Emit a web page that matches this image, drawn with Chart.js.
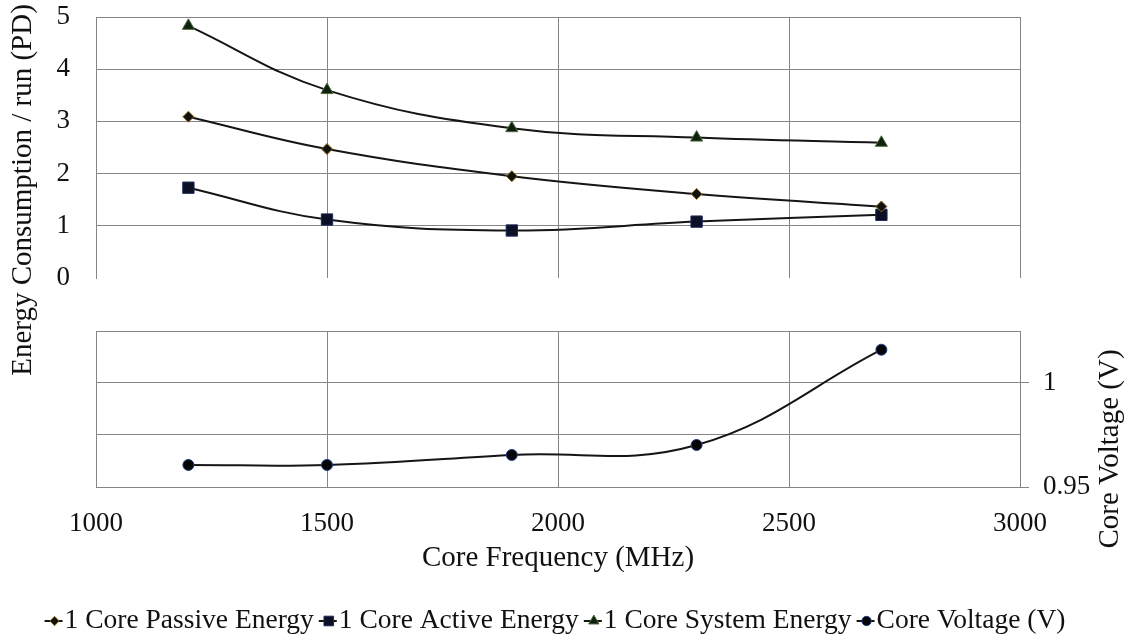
<!DOCTYPE html>
<html>
<head>
<meta charset="utf-8">
<script src="https://cdn.jsdelivr.net/npm/chart.js@4.4.1/dist/chart.umd.min.js"></script>
<style>
  html, body { margin: 0; padding: 0; background: #fff; }
  #wrap { position: relative; width: 1124px; height: 637px; }
  #wrap canvas { position: absolute; left: 0; top: 0; }
</style>
</head>
<body>
<div id="wrap">
  <canvas id="voltChart" width="1124" height="637"></canvas>
  <canvas id="energyChart" width="1124" height="637"></canvas>
</div>
<script>
// data
const FREQ = [1200, 1500, 1900, 2300, 2700];
const PASSIVE = [3.09, 2.47, 1.95, 1.61, 1.37];
const ACTIVE = [1.73, 1.12, 0.91, 1.08, 1.21];
const SYSTEM = [4.83, 3.60, 2.87, 2.69, 2.59];
const VOLTAGE = [0.9606, 0.9606, 0.9654, 0.9702, 1.0160];

const X_TICKS = [1000, 1500, 2000, 2500, 3000];
const ENERGY_TICKS = [0, 1, 2, 3, 4, 5];
const VOLT_TICKS = [0.95, 0.975, 1, 1.025];
const VOLT_LABELS = ["0.95", "1"];

const FONT = "'Liberation Serif', 'Times New Roman', serif";
const GRID = "#858585";
const LINE = "#151515";
const TXT = "#111";

const SERIES = [
  { label: "1 Core Passive Energy", data: PASSIVE, style: "rectRot", radius: 5.5, fill: "#111", edge: "#8a6a10" },
  { label: "1 Core Active Energy", data: ACTIVE, style: "rect", radius: 8, fill: "#0c1024", edge: "#1d2a5c" },
  { label: "1 Core System Energy", data: SYSTEM, style: "triangle", radius: 7, fill: "#10200f", edge: "#4a6a3a" },
  { label: "Core Voltage (V)", data: VOLTAGE, style: "circle", radius: 5.5, fill: "#050505", edge: "#1f3a8a" }
];

function pts(ys) {
  return FREQ.map((x, i) => ({ x, y: ys[i] }));
}

function makeDataset(s) {
  return {
    label: s.label,
    data: pts(s.data),
    borderColor: LINE,
    borderWidth: 2,
    tension: 0.4,
    pointStyle: s.style,
    pointRadius: s.radius,
    pointBackgroundColor: s.fill,
    pointBorderColor: s.edge,
    pointBorderWidth: 1
  };
}

const isVoltLabel = v => Math.abs(v - 1) < 1e-6 || Math.abs(v - 0.95) < 1e-6;

// ---------- top panel: energy ----------
const titlePlugin = {
  id: "leftTitle",
  afterDraw(chart) {
    const ctx = chart.ctx;
    ctx.save();
    ctx.translate(23, 190);
    ctx.rotate(-Math.PI / 2);
    ctx.font = `29px ${FONT}`;
    ctx.fillStyle = TXT;
    ctx.textAlign = "center";
    ctx.textBaseline = "middle";
    ctx.fillText("Energy Consumption / run (PD)", 0, 0);
    ctx.restore();
  }
};

new Chart(document.getElementById("energyChart"), {
  type: "line",
  data: { datasets: SERIES.slice(0, 3).map(makeDataset) },
  options: {
    responsive: false,
    animation: false,
    devicePixelRatio: 1,
    layout: { padding: { top: 17, bottom: 359, left: 0, right: 104 } },
    plugins: { legend: { display: false }, tooltip: { enabled: false } },
    scales: {
      x: {
        type: "linear", min: 1000, max: 3000,
        afterBuildTicks: s => { s.ticks = X_TICKS.map(v => ({ value: v })); },
        ticks: { display: false },
        grid: { color: GRID, drawTicks: false },
        border: { display: false },
        afterFit: s => { s.height = 0; s.paddingLeft = 0; s.paddingRight = 0; }
      },
      y: {
        min: 0, max: 5,
        afterBuildTicks: s => { s.ticks = ENERGY_TICKS.map(v => ({ value: v })); },
        ticks: { padding: 26, color: TXT, font: { family: FONT, size: 27 } },
        grid: { color: c => (c.tick && c.tick.value === 0 ? "rgba(0,0,0,0)" : GRID), drawTicks: false },
        border: { color: GRID },
        afterFit: s => { s.width = 96; s.paddingTop = 0; s.paddingBottom = 0; }
      }
    }
  },
  plugins: [titlePlugin]
});

// ---------- bottom panel: voltage ----------
function drawMarker(ctx, s, x, y) {
  ctx.save();
  ctx.fillStyle = s.fill;
  ctx.strokeStyle = s.edge;
  ctx.lineWidth = 1;
  Chart.helpers.drawPoint(ctx, { pointStyle: s.style, radius: s.radius * 0.85, borderWidth: 1 }, x, y);
  ctx.restore();
}

const sidePlugin = {
  id: "voltExtras",
  afterDraw(chart) {
    const ctx = chart.ctx;
    ctx.save();
    // right axis title
    ctx.translate(1110, 449);
    ctx.rotate(-Math.PI / 2);
    ctx.font = `29px ${FONT}`;
    ctx.fillStyle = TXT;
    ctx.textAlign = "center";
    ctx.textBaseline = "middle";
    ctx.fillText("Core Voltage (V)", 0, 0);
    ctx.restore();

    // legend row
    ctx.save();
    ctx.font = `27.5px ${FONT}`;
    ctx.textBaseline = "middle";
    const widths = SERIES.map(s => ctx.measureText(s.label).width);
    const keyW = 20, gap = 5;
    const total = widths.reduce((a, w) => a + keyW + w, 0) + gap * (SERIES.length - 1);
    let x = 555 - total / 2;
    const y = 621;
    SERIES.forEach((s, i) => {
      ctx.strokeStyle = LINE;
      ctx.lineWidth = 2;
      ctx.beginPath();
      ctx.moveTo(x, y);
      ctx.lineTo(x + keyW - 2, y);
      ctx.stroke();
      drawMarker(ctx, s, x + 10, y);
      ctx.fillStyle = TXT;
      ctx.fillText(s.label, x + keyW, y);
      x += keyW + widths[i] + gap;
    });
    ctx.restore();
  }
};

new Chart(document.getElementById("voltChart"), {
  type: "line",
  data: { datasets: [makeDataset(SERIES[3])] },
  options: {
    responsive: false,
    animation: false,
    devicePixelRatio: 1,
    layout: { padding: { top: 331, bottom: 60, left: 96, right: 0 } },
    plugins: { legend: { display: false }, tooltip: { enabled: false } },
    scales: {
      x: {
        type: "linear", min: 1000, max: 3000,
        afterBuildTicks: s => { s.ticks = X_TICKS.map(v => ({ value: v })); },
        ticks: { padding: 21, color: TXT, font: { family: FONT, size: 27 }, callback: v => String(v) },
        grid: { color: GRID, drawTicks: false },
        border: { color: GRID },
        title: { display: true, text: "Core Frequency (MHz)", color: TXT, font: { family: FONT, size: 29 }, padding: { top: 0, bottom: 1 } },
        afterFit: s => { s.height = 90; }
      },
      y: {
        position: "right",
        min: 0.95, max: 1.025,
        afterBuildTicks: s => { s.ticks = VOLT_TICKS.map(v => ({ value: v })); },
        ticks: {
          padding: 14, color: TXT, font: { family: FONT, size: 27 },
          callback: v => (Math.abs(v - 0.95) < 1e-6 ? VOLT_LABELS[0] : Math.abs(v - 1) < 1e-6 ? VOLT_LABELS[1] : "")
        },
        grid: {
          color: GRID, tickLength: 9,
          tickColor: c => (c.tick && isVoltLabel(c.tick.value) ? GRID : "rgba(0,0,0,0)")
        },
        border: { color: GRID },
        afterFit: s => { s.width = 104; }
      }
    }
  },
  plugins: [sidePlugin]
});
</script>
</body>
</html>
